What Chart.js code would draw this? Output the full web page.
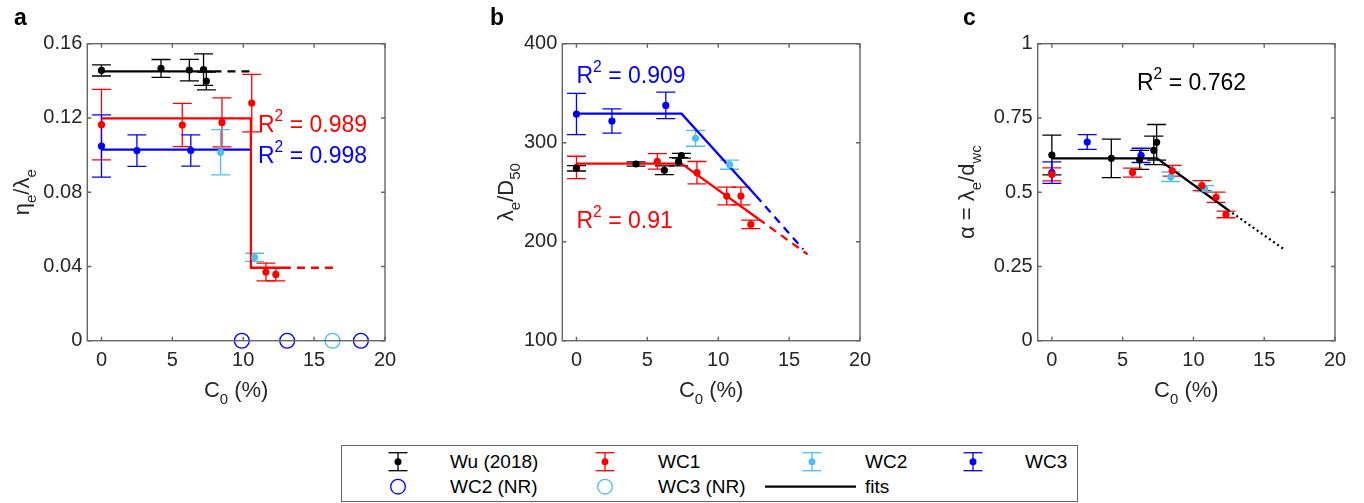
<!DOCTYPE html>
<html>
<head>
<meta charset="utf-8">
<script src="https://cdn.jsdelivr.net/npm/chart.js@4.4.1/dist/chart.umd.min.js"></script>
<style>
  body { margin: 0; background: #fff; width: 1364px; height: 503px; overflow: hidden; position: relative; }
  canvas { position: absolute; top: 0; }
  #legend { position: absolute; left: 341px; top: 445px; }
</style>
</head>
<body>
<canvas id="panelA" width="455" height="440" style="left:0px"></canvas>
<canvas id="panelB" width="455" height="440" style="left:455px"></canvas>
<canvas id="panelC" width="454" height="440" style="left:910px"></canvas>

<svg id="legend" width="737" height="57" font-family="Liberation Sans, Arial, sans-serif" font-size="19" fill="#000">
  <rect x="0.5" y="0.5" width="736" height="56" fill="#fff" stroke="#666" stroke-width="1"/>
  <!-- row 1: error bar symbols -->
  <g stroke-width="1.3">
    <g stroke="#000"><line x1="57" y1="7.7" x2="57" y2="25.7"/><line x1="47.5" y1="7.7" x2="66.5" y2="7.7"/><line x1="47.5" y1="25.7" x2="66.5" y2="25.7"/></g>
    <g stroke="#ff0000"><line x1="264" y1="7.7" x2="264" y2="25.7"/><line x1="254.5" y1="7.7" x2="273.5" y2="7.7"/><line x1="254.5" y1="25.7" x2="273.5" y2="25.7"/></g>
    <g stroke="#4dbeee"><line x1="471" y1="7.7" x2="471" y2="25.7"/><line x1="461.5" y1="7.7" x2="480.5" y2="7.7"/><line x1="461.5" y1="25.7" x2="480.5" y2="25.7"/></g>
    <g stroke="#0000ff"><line x1="632" y1="7.7" x2="632" y2="25.7"/><line x1="622.5" y1="7.7" x2="641.5" y2="7.7"/><line x1="622.5" y1="25.7" x2="641.5" y2="25.7"/></g>
  </g>
  <circle cx="57" cy="16.7" r="3.5" fill="#000"/>
  <circle cx="264" cy="16.7" r="3.5" fill="#ff0000"/>
  <circle cx="471" cy="16.7" r="3.5" fill="#4dbeee"/>
  <circle cx="632" cy="16.7" r="3.5" fill="#0000ff"/>
  <text x="109" y="16.7" dominant-baseline="central">Wu (2018)</text>
  <text x="317" y="16.7" dominant-baseline="central">WC1</text>
  <text x="524" y="16.7" dominant-baseline="central">WC2</text>
  <text x="684" y="16.7" dominant-baseline="central">WC3</text>
  <!-- row 2 -->
  <circle cx="57" cy="41.7" r="7.3" fill="none" stroke="#0000ff" stroke-width="1.3"/>
  <circle cx="264" cy="41.7" r="7.3" fill="none" stroke="#4dbeee" stroke-width="1.3"/>
  <line x1="424" y1="41.7" x2="515" y2="41.7" stroke="#000" stroke-width="2.3"/>
  <text x="109" y="41.7" dominant-baseline="central">WC2 (NR)</text>
  <text x="317" y="41.7" dominant-baseline="central">WC3 (NR)</text>
  <text x="524" y="41.7" dominant-baseline="central">fits</text>
</svg>

<script>
const FONT = '"Liberation Sans", Arial, Helvetica, sans-serif';
const BLACK = '#000000', RED = '#ff0000', BLUE = '#0000ff', LIGHT = '#4dbeee';

const xTicks = [0, 5, 10, 15, 20];

// C0 (%) of every series
const wuC0 = [0, 4.2, 6.2, 7.2, 7.4];
const wc1C0 = [0, 5.7, 8.5, 10.6, 11.6, 12.3];
const wc2C0 = [8.4, 10.8];
const wc3C0 = [0, 2.5, 6.3];
const wc2NrC0 = [9.9, 13.1, 18.3];
const wc3NrC0 = [16.3];

// === a: eta_e / lambda_e ===
const aTicks = [0, 0.04, 0.08, 0.12, 0.16];
const aWu = [0.1456, 0.1467, 0.1458, 0.146, 0.1399];
const aWuErr = [0.003, 0.0048, 0.0058, 0.0085, 0.0048];
const aWc1 = [0.1164, 0.1162, 0.1176, 0.128, 0.037, 0.0357];
const aWc1Err = [0.019, 0.0117, 0.0132, 0.0155, 0.0048, 0.0035];
const aWc2 = [0.1015, 0.0449];
const aWc2Err = [0.0122, 0.0022];
const aWc3 = [0.1049, 0.1024, 0.1025];
const aWc3Err = [0.0168, 0.0085, 0.0084];
const aFitWu = [[0, 0.1451], [7.9, 0.1451]];
const aFitWuExt = [[7.9, 0.1451], [10.5, 0.1451]];
const aFitWc1 = [[0, 0.1198], [10.54, 0.1198], [10.54, 0.0393], [12.8, 0.0393]];
const aFitWc1Ext = [[12.8, 0.0393], [16.4, 0.0393]];
const aFitWc3 = [[0, 0.1029], [10.54, 0.1029]];

// === b: lambda_e / D50 ===
const bTicks = [100, 200, 300, 400];
const bWu = [274.1, 278.5, 272.1, 280.8, 286.9];
const bWuErr = [2.7, 2.2, 4.4, 4.2, 2.4];
const bWc1 = [275, 281.1, 269.7, 246.1, 246.1, 217.5];
const bWc1Err = [11.3, 7.8, 11.3, 9, 9, 4.2];
const bWc2 = [304.4, 277.8];
const bWc2Err = [8, 4.6];
const bWc3 = [329, 321.9, 337.7];
const bWc3Err = [20.8, 12.3, 13.3];
const bFitWc3 = [[0, 329.3], [7.41, 329.3], [12.66, 246.5]];
const bFitWc3Ext = [[12.66, 246.5], [16.0, 192.3]];
const bFitWc1 = [[0, 278.8], [7.41, 278.8], [12.82, 223.2]];
const bFitWc1Ext = [[12.82, 223.2], [16.3, 187.2]];

// === c: alpha = lambda_e / d_wc ===
const cTicks = [0, 0.25, 0.5, 0.75, 1];
const cWu = [0.625, 0.614, 0.609, 0.641, 0.668];
const cWuErr = [0.067, 0.065, 0.032, 0.048, 0.06];
const cWc1 = [0.56, 0.566, 0.572, 0.522, 0.483, 0.425];
const cWc1Err = [0.022, 0.015, 0.018, 0.017, 0.017, 0.011];
const cWc2 = [0.552, 0.512];
const cWc2Err = [0.016, 0.01];
const cWc3 = [0.566, 0.669, 0.624];
const cWc3Err = [0.036, 0.025, 0.024];
const cFit = [[0, 0.614], [7.43, 0.614], [12.45, 0.44]];
const cFitExt = [[12.45, 0.44], [16.34, 0.31]];

// ---------- dataset helpers ----------
function series(xs, ys, err, color) {
    return {
        data: xs.map((x, i) => ({ x: x, y: ys[i] })),
        errors: err,
        backgroundColor: color,
        borderColor: color,
        pointRadius: 3.6,
        pointBorderWidth: 0
    };
}

function fit(points, color, dash) {
    return {
        data: points.map(p => ({ x: p[0], y: p[1] })),
        showLine: true,
        borderColor: color,
        borderWidth: 2.3,
        borderDash: dash || [],
        pointRadius: 0,
        fill: false
    };
}

function notReached(xs, color) {
    return {
        data: xs.map(x => ({ x: x, y: 0 })),
        pointRadius: 7.4,
        borderColor: color,
        borderWidth: 1.3,
        backgroundColor: 'rgba(0,0,0,0)',
        clip: false
    };
}

// ---------- rich text (sub / superscripts) ----------
function richWidth(ctx, parts, size) {
    let w = 0;
    parts.forEach(([t, k]) => {
        ctx.font = (k ? size * 0.68 : size) + 'px ' + FONT;
        w += ctx.measureText(t).width;
    });
    return w;
}

function drawRich(ctx, parts, x, y, size) {
    let cx = x;
    parts.forEach(([t, k]) => {
        ctx.font = (k ? size * 0.68 : size) + 'px ' + FONT;
        const dy = k === 'sub' ? size * 0.33 : (k === 'sup' ? -size * 0.5 : 0);
        ctx.fillText(t, cx, y + dy);
        cx += ctx.measureText(t).width;
    });
}

// error bars drawn through the scales
const errorBars = {
    id: 'errorBars',
    beforeDatasetsDraw(chart) {
        const ctx = chart.ctx, xs = chart.scales.x, ys = chart.scales.y;
        ctx.save();
        ctx.lineWidth = 1.3;
        chart.data.datasets.forEach(ds => {
            if (!ds.errors) return;
            ctx.strokeStyle = ds.borderColor;
            ds.data.forEach((d, i) => {
                const px = xs.getPixelForValue(d.x);
                const top = ys.getPixelForValue(d.y + ds.errors[i]);
                const bot = ys.getPixelForValue(d.y - ds.errors[i]);
                ctx.beginPath();
                ctx.moveTo(px, top); ctx.lineTo(px, bot);
                ctx.moveTo(px - 9.5, top); ctx.lineTo(px + 9.5, top);
                ctx.moveTo(px - 9.5, bot); ctx.lineTo(px + 9.5, bot);
                ctx.stroke();
            });
        });
        ctx.restore();
    }
};

// box, inward ticks, titles and labels
const frame = {
    id: 'frame',
    afterDraw(chart) {
        const o = chart.options.plugins.panel;
        const ctx = chart.ctx, a = chart.chartArea;
        const xs = chart.scales.x, ys = chart.scales.y;
        ctx.save();
        ctx.strokeStyle = '#666666';
        ctx.lineWidth = 1.4;
        ctx.strokeRect(a.left, a.top, a.right - a.left, a.bottom - a.top);
        ctx.beginPath();
        xTicks.forEach(v => {
            const px = xs.getPixelForValue(v);
            ctx.moveTo(px, a.bottom); ctx.lineTo(px, a.bottom - 4);
            ctx.moveTo(px, a.top); ctx.lineTo(px, a.top + 4);
        });
        o.yTicks.forEach(v => {
            const py = ys.getPixelForValue(v);
            ctx.moveTo(a.left, py); ctx.lineTo(a.left + 4, py);
            ctx.moveTo(a.right, py); ctx.lineTo(a.right - 4, py);
        });
        ctx.stroke();

        ctx.textAlign = 'left';
        ctx.textBaseline = 'alphabetic';
        // panel letter
        ctx.fillStyle = '#000';
        ctx.font = 'bold 23px ' + FONT;
        ctx.fillText(o.letter, o.letterX, 25);

        // x title
        ctx.fillStyle = '#262626';
        const xParts = [['C', ''], ['0', 'sub'], [' (%)', '']];
        const xw = richWidth(ctx, xParts, 22);
        drawRich(ctx, xParts, (a.left + a.right) / 2 - xw / 2, 397, 22);

        // y title
        const yw = richWidth(ctx, o.yTitle, 22);
        ctx.translate(o.yTitleX, (a.top + a.bottom) / 2);
        ctx.rotate(-Math.PI / 2);
        drawRich(ctx, o.yTitle, -yw / 2, 0, 22);
        ctx.setTransform(1, 0, 0, 1, 0, 0);

        // R^2 notes
        o.notes.forEach(n => {
            ctx.fillStyle = n.color;
            drawRich(ctx, [['R', ''], ['2', 'sup'], [' = ' + n.text, '']],
                xs.getPixelForValue(n.x), ys.getPixelForValue(n.y), 23);
        });
        ctx.restore();
    }
};

function makeChart(id, cfg) {
    new Chart(document.getElementById(id), {
        type: 'scatter',
        data: { datasets: cfg.datasets },
        options: {
            responsive: false,
            animation: false,
            events: [],
            layout: { padding: { top: 43.7, right: cfg.padRight, left: 0, bottom: 0 } },
            plugins: {
                legend: { display: false },
                tooltip: { enabled: false },
                panel: cfg.panel
            },
            scales: {
                x: {
                    type: 'linear', min: -1, max: 20,
                    grid: { display: false, drawTicks: false },
                    border: { display: false },
                    afterBuildTicks: s => { s.ticks = xTicks.map(v => ({ value: v })); },
                    afterFit: s => { s.height = 99.3; },
                    ticks: { font: { family: FONT, size: 20 }, color: '#262626', padding: 8 }
                },
                y: {
                    type: 'linear', min: cfg.yMin, max: cfg.yMax,
                    grid: { display: false, drawTicks: false },
                    border: { display: false },
                    afterBuildTicks: s => { s.ticks = cfg.panel.yTicks.map(v => ({ value: v })); },
                    afterFit: s => { s.width = cfg.yWidth; },
                    ticks: {
                        font: { family: FONT, size: 20 }, color: '#262626', padding: 5,
                        callback: v => String(+v.toFixed(2))
                    }
                }
            }
        },
        plugins: [errorBars, frame]
    });
}

document.addEventListener('DOMContentLoaded', function () {
    Chart.defaults.font.family = FONT;

    makeChart('panelA', {
        yMin: 0, yMax: 0.16, yWidth: 87.3, padRight: 70,
        panel: {
            letter: 'a', letterX: 14, yTicks: aTicks, yTitleX: 29,
            yTitle: [['η', ''], ['e', 'sub'], ['/λ', ''], ['e', 'sub']],
            notes: [
                { x: 11.04, y: 0.1124, text: '0.989', color: RED },
                { x: 11.04, y: 0.0957, text: '0.998', color: BLUE }
            ]
        },
        datasets: [
            series(wuC0, aWu, aWuErr, BLACK),
            series(wc1C0, aWc1, aWc1Err, RED),
            series(wc2C0, aWc2, aWc2Err, LIGHT),
            series(wc3C0, aWc3, aWc3Err, BLUE),
            notReached(wc2NrC0, BLUE),
            notReached(wc3NrC0, LIGHT),
            fit(aFitWu, BLACK),
            fit(aFitWuExt, BLACK, [8, 6]),
            fit(aFitWc1, RED),
            fit(aFitWc1Ext, RED, [8, 6]),
            fit(aFitWc3, BLUE)
        ]
    });

    makeChart('panelB', {
        yMin: 100, yMax: 400, yWidth: 107.3, padRight: 50,
        panel: {
            letter: 'b', letterX: 35, yTicks: bTicks, yTitleX: 58,
            yTitle: [['λ', ''], ['e', 'sub'], ['/D', ''], ['50', 'sub']],
            notes: [
                { x: 0, y: 360, text: '0.909', color: BLUE },
                { x: 0, y: 213.5, text: '0.91', color: RED }
            ]
        },
        datasets: [
            series(wuC0, bWu, bWuErr, BLACK),
            series(wc1C0, bWc1, bWc1Err, RED),
            series(wc2C0, bWc2, bWc2Err, LIGHT),
            series(wc3C0, bWc3, bWc3Err, BLUE),
            fit(bFitWc3, BLUE),
            fit(bFitWc3Ext, BLUE, [8, 6]),
            fit(bFitWc1, RED),
            fit(bFitWc1Ext, RED, [8, 6])
        ]
    });

    makeChart('panelC', {
        yMin: 0, yMax: 1, yWidth: 127.7, padRight: 29,
        panel: {
            letter: 'c', letterX: 53, yTicks: cTicks, yTitleX: 64,
            yTitle: [['α = λ', ''], ['e', 'sub'], ['/d', ''], ['wc', 'sub']],
            notes: [
                { x: 6.01, y: 0.844, text: '0.762', color: BLACK }
            ]
        },
        datasets: [
            series(wuC0, cWu, cWuErr, BLACK),
            series(wc1C0, cWc1, cWc1Err, RED),
            series(wc2C0, cWc2, cWc2Err, LIGHT),
            series(wc3C0, cWc3, cWc3Err, BLUE),
            fit(cFit, BLACK),
            fit(cFitExt, BLACK, [2, 3])
        ]
    });
});
</script>
</body>
</html>
